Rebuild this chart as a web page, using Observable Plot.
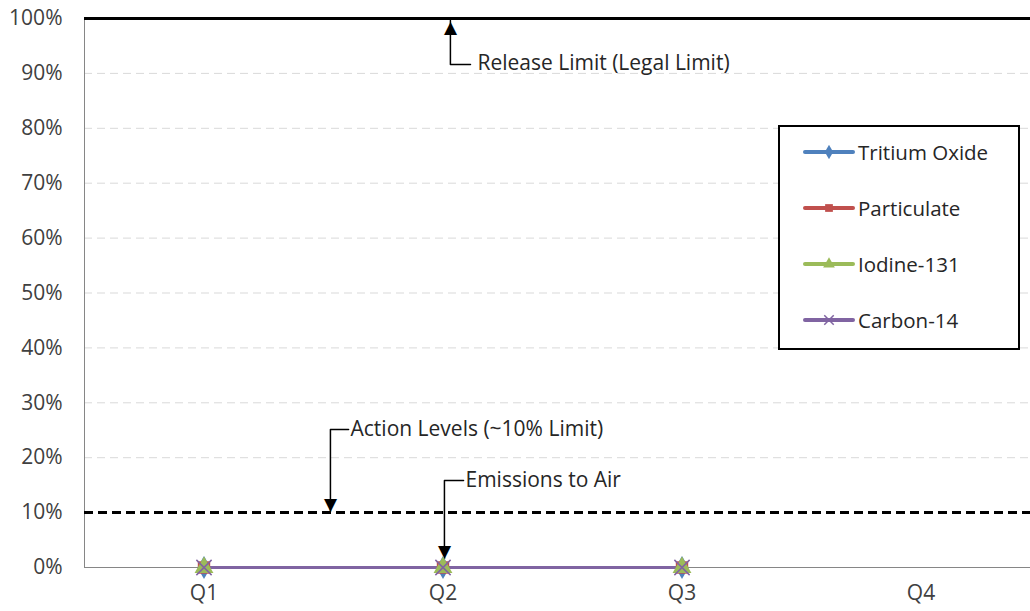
<!DOCTYPE html>
<html>
<head>
<meta charset="utf-8">
<script src="https://cdn.jsdelivr.net/npm/d3@7"></script>
<script src="https://cdn.jsdelivr.net/npm/@observablehq/plot@0.6"></script>
<style>
  html, body { margin: 0; padding: 0; background: #fff; }
  #wrap { position: relative; width: 1030px; height: 611px; overflow: hidden; font-family: "Open Sans", sans-serif; }
  #legend { position: absolute; left: 778px; top: 125px; width: 238px; height: 221px; border: 2px solid #000; background: #fff; }
  .item { position: absolute; left: 23px; height: 24px; display: flex; align-items: center; font-size: 20.5px; color: #262626; }
  .item svg { margin-right: 3px; }
</style>
</head>
<body>
<div id="wrap"></div>
<script>
// ---- data ----
const quarters = ["Q1", "Q2", "Q3", "Q4"];
const seriesNames = ["Tritium Oxide", "Particulate", "Iodine-131", "Carbon-14"];
const tritiumOxide = [0, 0, 0];
const particulate = [0, 0, 0];
const iodine131 = [0, 0, 0];
const carbon14 = [0, 0, 0];
const seriesColors = ["#4F81BD", "#C0504D", "#9BBB59", "#8064A2"];
const seriesSymbols = ["diamond", "square", "triangle", "times"];
const yTicks = [0, 0.1, 0.2, 0.3, 0.4, 0.5, 0.6, 0.7, 0.8, 0.9, 1.0];
const releaseLimit = 1.0;
const actionLevel = 0.1;

// annotation leaders (in data units: x = quarter index, y = fraction of limit)
const annoLabels = ["Release Limit (Legal Limit)", "Action Levels (~10% Limit)", "Emissions to Air"];
const annoTextX = [2.144, 1.613, 2.094];
const annoTextY = [0.918, 0.2515, 0.1585];
const annoElbowY = [0.9162, 0.2515, 0.1585];
const annoStemX = [2.031, 1.529, 2.006];
const annoTextStartX = [2.115, 1.605, 2.086];
const annoTipY = [0.9964, 0.102, 0.016];
const annoDir = ["up", "down", "down"];

// ---- build tables ----
const allValues = [tritiumOxide, particulate, iodine131, carbon14];
const rows = [];
allValues.forEach((vals, i) => vals.forEach((v, j) => rows.push({series: seriesNames[i], q: j + 1, value: v, idx: i})));

const leaders = [];
annoLabels.forEach((l, i) => {
  leaders.push({k: i, x: annoTextStartX[i], y: annoElbowY[i]});
  leaders.push({k: i, x: annoStemX[i], y: annoElbowY[i]});
  leaders.push({k: i, x: annoStemX[i], y: annoTipY[i]});
});
const annos = annoLabels.map((l, i) => ({label: l, x: annoTextX[i], y: annoTextY[i], sx: annoStemX[i], ty: annoTipY[i], dir: annoDir[i]}));

const marks = [
  Plot.ruleY(yTicks.filter(t => t > actionLevel && t < releaseLimit), {stroke: "#d9d9d9", strokeWidth: 1, strokeDasharray: "8,5"}),
  Plot.ruleX([0.5], {stroke: "#868686", strokeWidth: 1}),
  Plot.ruleY([0], {stroke: "#868686", strokeWidth: 1}),
  Plot.ruleY([actionLevel], {stroke: "#000", strokeWidth: 3, strokeDasharray: "9,5"}),
  Plot.ruleY([releaseLimit], {stroke: "#000", strokeWidth: 3}),
  Plot.line(leaders, {x: "x", y: "y", z: "k", stroke: "#000", strokeWidth: 1.5}),
  Plot.text(annos.filter(d => d.dir === "up"), {x: "sx", y: "ty", text: () => "▲", fontFamily: "DejaVu Sans", fontSize: 17, fill: "#000", lineAnchor: "middle", dy: 7}),
  Plot.text(annos.filter(d => d.dir === "down"), {x: "sx", y: "ty", text: () => "▼", fontFamily: "DejaVu Sans", fontSize: 17, fill: "#000", lineAnchor: "middle", dy: -7}),
  Plot.text(annos, {x: "x", y: "y", text: "label", textAnchor: "start", fontSize: 21, fill: "#262626", fontFamily: "Open Sans"})
];
seriesNames.forEach((name, i) => {
  const data = rows.filter(r => r.idx === i);
  marks.push(Plot.line(data, {x: "q", y: "value", stroke: seriesColors[i], strokeWidth: 3}));
});
seriesNames.forEach((name, i) => {
  const data = rows.filter(r => r.idx === i);
  const sym = seriesSymbols[i];
  if (sym === "times") {
    marks.push(Plot.dot(data, {x: "q", y: "value", symbol: sym, stroke: seriesColors[i], r: 7, strokeWidth: 1.5}));
  } else {
    marks.push(Plot.dot(data, {x: "q", y: "value", symbol: sym, fill: seriesColors[i], stroke: "none", r: 7}));
  }
});

const chart = Plot.plot({
  width: 1030,
  height: 611,
  marginLeft: 84,
  marginRight: 0,
  marginTop: 18,
  marginBottom: 44,
  style: {fontFamily: "Open Sans", fontSize: "21px", color: "#404040", background: "#fff"},
  x: {domain: [0.5, 4.5], range: [84, 1040], ticks: [1, 2, 3, 4], tickFormat: d => quarters[d - 1], tickSize: 0, tickPadding: 18, label: null},
  y: {domain: [0, 1], ticks: yTicks, tickFormat: d3.format(".0%"), tickSize: 0, tickPadding: 22, label: null},
  marks
});
document.getElementById("wrap").appendChild(chart);

// legend (inside plot area, as in the original)
const legend = document.createElement("div");
legend.id = "legend";
seriesNames.forEach((name, i) => {
  const it = document.createElement("div");
  it.className = "item";
  it.style.top = (13 + i * 56) + "px";
  const sym = d3.symbol(d3["symbol" + seriesSymbols[i][0].toUpperCase() + seriesSymbols[i].slice(1)] || d3.symbolTimes, 60)();
  const isStroke = seriesSymbols[i] === "times";
  it.innerHTML = `<svg width="52" height="14" viewBox="-26 -7 52 14"><line x1="-24" x2="24" y1="0" y2="0" stroke="${seriesColors[i]}" stroke-width="4" stroke-linecap="round"/><path d="${sym}" ${isStroke ? `fill="none" stroke="${seriesColors[i]}" stroke-width="1.5"` : `fill="${seriesColors[i]}"`}/></svg><span>${name}</span>`;
  legend.appendChild(it);
});
document.getElementById("wrap").appendChild(legend);
</script>
</body>
</html>
